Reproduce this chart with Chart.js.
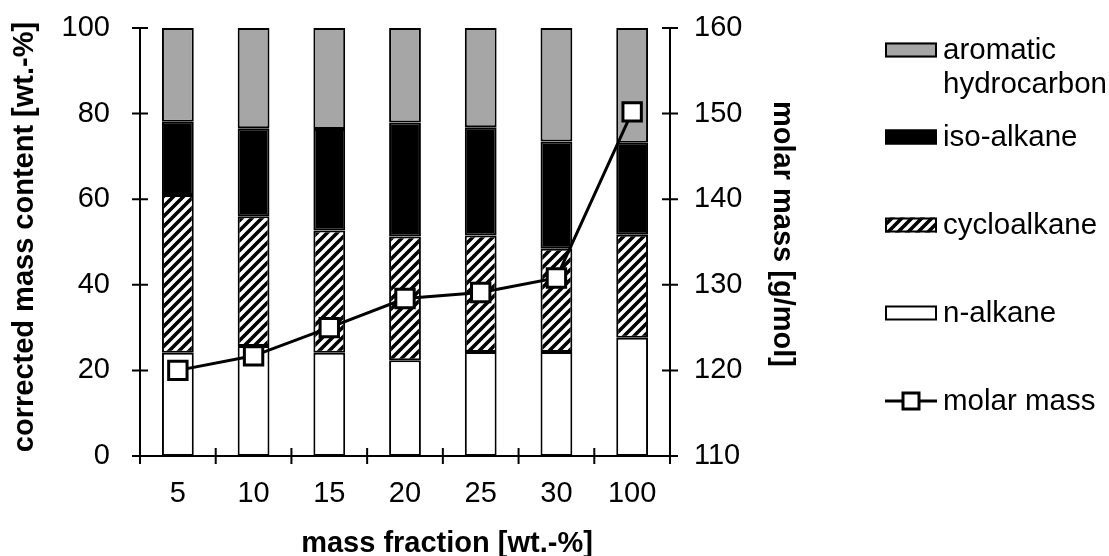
<!DOCTYPE html>
<html>
<head>
<meta charset="utf-8">
<script src="https://cdn.jsdelivr.net/npm/chart.js@4/dist/chart.umd.min.js"></script>
<style>
  html, body { margin: 0; padding: 0; background: #ffffff; }
  canvas { display: block; }
</style>
</head>
<body>
<canvas id="massChart" width="1109" height="556"></canvas>
<script>
// mass fraction categories [wt.-%]
const categories = ['5', '10', '15', '20', '25', '30', '100'];

// corrected mass content per group [wt.-%]
const nAlkane = [24.1, 25.7, 24.1, 22.4, 24.3, 24.3, 27.6];
const cycloAlkane = [36.9, 30.3, 28.6, 28.9, 27.2, 24.1, 24.1];
const isoAlkane = [17.1, 20.6, 23.7, 26.6, 25.3, 25.1, 21.5];
const aromatic = [21.9, 23.4, 23.6, 22.1, 23.2, 26.5, 26.8];

// molar mass [g/mol]
const molarMass = [120, 121.7, 125, 128.4, 129.1, 130.8, 150.2];

const leftTicks = [0, 20, 40, 60, 80, 100];
const rightTicks = [110, 120, 130, 140, 150, 160];

const FONT = '"Liberation Sans", Arial, sans-serif';

// diagonal hatch for the cycloalkane bars
const makeHatch = () => {
    const s = 10;
    const c = document.createElement('canvas');
    c.width = s;
    c.height = s;
    const g = c.getContext('2d');
    g.fillStyle = '#ffffff';
    g.fillRect(0, 0, s, s);
    g.strokeStyle = '#000000';
    g.lineWidth = 3.6;
    g.beginPath();
    g.moveTo(0, s); g.lineTo(s, 0);
    g.moveTo(-2, 2); g.lineTo(2, -2);
    g.moveTo(s - 2, s + 2); g.lineTo(s + 2, s - 2);
    g.stroke();
    return g.createPattern(c, 'repeat');
};
const ctx = document.getElementById('massChart').getContext('2d');
const hatch = makeHatch();

// axis lines with ticks crossing them, plus axis titles
const axesPlugin = {
    id: 'axesPlugin',
    afterDraw(chart) {
        const { ctx, chartArea: a, scales } = chart;
        const half = 8;
        ctx.save();
        ctx.strokeStyle = '#000000';
        ctx.lineWidth = 2;
        ctx.beginPath();
        ctx.moveTo(a.left, a.top); ctx.lineTo(a.left, a.bottom);
        ctx.moveTo(a.right, a.top); ctx.lineTo(a.right, a.bottom);
        ctx.moveTo(a.left - half, a.bottom); ctx.lineTo(a.right + half, a.bottom);
        leftTicks.forEach(v => {
            const y = scales.y.getPixelForValue(v);
            ctx.moveTo(a.left - half, y); ctx.lineTo(a.left + half, y);
        });
        rightTicks.forEach(v => {
            const y = scales.y1.getPixelForValue(v);
            ctx.moveTo(a.right - half, y); ctx.lineTo(a.right + half, y);
        });
        for (let i = 0; i <= categories.length; i++) {
            const x = scales.x.getPixelForValue(i - 0.5);
            ctx.moveTo(x, a.bottom - half); ctx.lineTo(x, a.bottom + half);
        }
        ctx.stroke();

        ctx.fillStyle = '#000000';
        ctx.font = 'bold 29px ' + FONT;
        ctx.textAlign = 'center';
        ctx.textBaseline = 'middle';
        ctx.save();
        ctx.translate(25, 237);
        ctx.rotate(-Math.PI / 2);
        ctx.fillText('corrected mass content [wt.-%]', 0, 0);
        ctx.restore();
        ctx.save();
        ctx.translate(782, 234);
        ctx.rotate(Math.PI / 2);
        ctx.fillText('molar mass [g/mol]', 0, 0);
        ctx.restore();
        ctx.textBaseline = 'alphabetic';
        ctx.fillText('mass fraction [wt.-%]', 447, 552);
        ctx.restore();
    }
};

// legend at the right, top-down from the last bar series
const legendPlugin = {
    id: 'sideLegend',
    afterDraw(chart) {
        const { ctx } = chart;
        const ds = chart.data.datasets;
        const x0 = 885, w = 52, h = 15, tx = 943;
        const items = [
            { d: ds[3], lines: ['aromatic', 'hydrocarbon'], base: 59 },
            { d: ds[2], lines: ['iso-alkane'], base: 146 },
            { d: ds[1], lines: ['cycloalkane'], base: 234 },
            { d: ds[0], lines: ['n-alkane'], base: 322 },
            { d: ds[4], lines: ['molar mass'], base: 410 }
        ];
        ctx.save();
        ctx.font = '29.5px ' + FONT;
        ctx.textAlign = 'left';
        ctx.textBaseline = 'alphabetic';
        items.forEach(it => {
            const cy = it.base - 9;
            if (it.d.type === 'line') {
                ctx.strokeStyle = it.d.borderColor;
                ctx.lineWidth = it.d.borderWidth;
                ctx.beginPath();
                ctx.moveTo(x0, cy); ctx.lineTo(x0 + w, cy);
                ctx.stroke();
                const s = 16;
                ctx.fillStyle = it.d.pointBackgroundColor;
                ctx.fillRect(x0 + w / 2 - s / 2, cy - s / 2, s, s);
                ctx.strokeRect(x0 + w / 2 - s / 2, cy - s / 2, s, s);
            } else {
                ctx.fillStyle = it.d.backgroundColor;
                ctx.fillRect(x0, cy - h / 2, w, h);
                ctx.strokeStyle = '#000000';
                ctx.lineWidth = 2;
                ctx.strokeRect(x0 + 1, cy - h / 2 + 1, w - 2, h - 2);
            }
            ctx.fillStyle = '#000000';
            it.lines.forEach((t, i) => ctx.fillText(t, tx, it.base + i * 34));
        });
        ctx.restore();
    }
};

const barStyle = {
    borderColor: '#000000',
    borderWidth: 2,
    borderSkipped: false,
    barPercentage: 0.42,
    categoryPercentage: 1.0,
    yAxisID: 'y',
    order: 1
};

// fixed scale size, with no extra room kept for half tick labels
const fitWidth = (w) => (scale) => {
    scale.width = w;
    scale.paddingTop = 0;
    scale.paddingBottom = 0;
};

new Chart(ctx, {
    type: 'bar',
    data: {
        labels: categories,
        datasets: [
            { ...barStyle, label: 'n-alkane', data: nAlkane, backgroundColor: '#ffffff' },
            { ...barStyle, label: 'cycloalkane', data: cycloAlkane, backgroundColor: hatch },
            { ...barStyle, label: 'iso-alkane', data: isoAlkane, backgroundColor: '#000000' },
            { ...barStyle, label: 'aromatic hydrocarbon', data: aromatic, backgroundColor: '#a6a6a6' },
            {
                type: 'line',
                label: 'molar mass',
                data: molarMass,
                yAxisID: 'y1',
                order: 0,
                borderColor: '#000000',
                borderWidth: 3,
                tension: 0,
                pointStyle: 'rect',
                pointRadius: 13,
                pointBackgroundColor: '#ffffff',
                pointBorderColor: '#000000',
                pointBorderWidth: 3
            }
        ]
    },
    options: {
        responsive: false,
        animation: false,
        devicePixelRatio: 1,
        layout: { padding: { left: 0, right: 339, top: 28, bottom: 0 } },
        plugins: {
            legend: { display: false },
            tooltip: { enabled: false }
        },
        scales: {
            x: {
                stacked: true,
                grid: { display: false, drawTicks: false },
                border: { display: false },
                ticks: { color: '#000000', font: { family: FONT, size: 29 }, padding: 21, maxRotation: 0 },
                afterFit: (scale) => {
                    scale.height = 100;
                    scale.paddingLeft = 0;
                    scale.paddingRight = 0;
                }
            },
            y: {
                stacked: true,
                min: 0,
                max: 100,
                grid: { display: false, drawTicks: false },
                border: { display: false },
                ticks: { stepSize: 20, color: '#000000', font: { family: FONT, size: 29 }, padding: 30 },
                afterFit: fitWidth(140)
            },
            y1: {
                position: 'right',
                min: 110,
                max: 160,
                grid: { display: false, drawTicks: false },
                border: { display: false },
                ticks: { stepSize: 10, color: '#000000', font: { family: FONT, size: 29 }, padding: 24 },
                afterFit: fitWidth(100)
            }
        }
    },
    plugins: [axesPlugin, legendPlugin]
});
</script>
</body>
</html>
